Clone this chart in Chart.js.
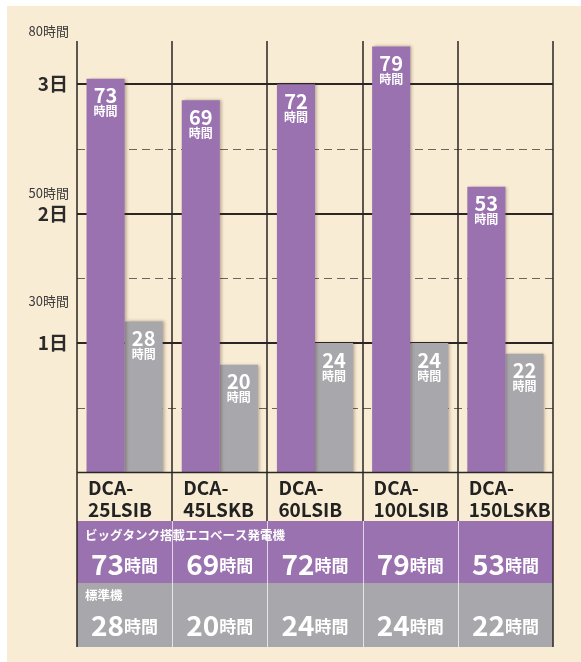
<!DOCTYPE html>
<html>
<head>
<meta charset="utf-8">
<script src="https://cdn.jsdelivr.net/npm/chart.js@4"></script>
<style>
  body { margin: 0; background: #fff; }
  canvas { display: block; }
</style>
</head>
<body>
<canvas id="myChart" width="581" height="662"></canvas>
<script>
const models = [['DCA-', '25LSIB'], ['DCA-', '45LSKB'], ['DCA-', '60LSIB'], ['DCA-', '100LSIB'], ['DCA-', '150LSKB']]
const ecoHours = [73, 69, 72, 79, 53]
const standardHours = [28, 20, 24, 24, 22]
const dayTicks = [24, 48, 72]
const dayLabels = ['1日', '2日', '3日']
const halfDayTicks = [12, 36, 60]
const hourTicks = [30, 50, 80]
const ecoTitle = 'ビッグタンク搭載エコベース発電機'
const standardTitle = '標準機'

const cream = '#f9ecd4'
const purple = '#9b72b0'
const grey = '#a8a7ac'
const dark = '#2a2624'
const font = '"Noto Sans CJK JP", "Noto Sans", sans-serif'

const backgroundPlugin = {
  id: 'background',
  beforeDraw(chart) {
    const ctx = chart.ctx
    ctx.save()
    ctx.fillStyle = cream
    ctx.fillRect(7, 6, chart.width - 7, chart.height - 6)
    ctx.restore()
  }
}

const gridPlugin = {
  id: 'grid',
  beforeDatasetsDraw(chart) {
    const { ctx, chartArea: a, scales: { y } } = chart
    ctx.save()
    ctx.strokeStyle = '#6e645e'
    ctx.lineWidth = 1
    ctx.setLineDash([8, 5])
    halfDayTicks.forEach(v => {
      const py = Math.round(y.getPixelForValue(v)) + 0.5
      ctx.beginPath(); ctx.moveTo(a.left, py); ctx.lineTo(a.right, py); ctx.stroke()
    })
    ctx.setLineDash([])
    ctx.strokeStyle = dark
    ctx.lineWidth = 2
    dayTicks.forEach(v => {
      const py = Math.round(y.getPixelForValue(v))
      ctx.beginPath(); ctx.moveTo(a.left, py); ctx.lineTo(a.right, py); ctx.stroke()
    })
    // day labels and hour labels
    ctx.fillStyle = '#2b2b2b'
    ctx.textAlign = 'right'
    ctx.textBaseline = 'middle'
    ctx.font = 'bold 19px ' + font
    dayTicks.forEach((v, i) => ctx.fillText(dayLabels[i], a.left - 9, y.getPixelForValue(v)))
    ctx.font = '13px ' + font
    ctx.fillStyle = '#3a3a3a'
    hourTicks.forEach(v => ctx.fillText(v + '時間', a.left - 8, y.getPixelForValue(v + 1.8)))
    ctx.restore()
  },
  beforeDatasetDraw(chart) {
    const ctx = chart.ctx
    ctx.save()
    ctx.shadowColor = 'rgba(60,40,30,0.35)'
    ctx.shadowBlur = 3
    ctx.shadowOffsetX = 2
  },
  afterDatasetDraw(chart) {
    chart.ctx.restore()
  }
}

const labelsPlugin = {
  id: 'labels',
  afterDatasetsDraw(chart) {
    const { ctx, chartArea: a, scales: { x } } = chart
    ctx.save()
    ctx.fillStyle = '#fff'
    ctx.textAlign = 'center'
    ctx.textBaseline = 'middle'
    chart.data.datasets.forEach((ds, di) => {
      chart.getDatasetMeta(di).data.forEach((bar, i) => {
        ctx.font = 'bold 20px ' + font
        ctx.fillText(String(ds.data[i]), bar.x, bar.y + 17)
        ctx.font = 'bold 12px ' + font
        ctx.fillText('時間', bar.x, bar.y + 33)
      })
    })

    const catW = x.getPixelForValue(1) - x.getPixelForValue(0)
    const bottom = a.bottom
    const rowCat = bottom + 48.5
    const rowEco = rowCat + 62
    const rowStd = rowEco + 64

    // table rows
    ctx.fillStyle = purple
    ctx.fillRect(a.left, rowCat, a.right - a.left, rowEco - rowCat)
    ctx.fillStyle = grey
    ctx.fillRect(a.left, rowEco, a.right - a.left, rowStd - rowEco)

    // light separators inside coloured rows
    ctx.strokeStyle = 'rgba(255,255,255,0.7)'
    ctx.lineWidth = 1
    for (let i = 1; i < models.length; i++) {
      const px = Math.round(x.getPixelForValue(i) - catW / 2) + 0.5
      ctx.beginPath(); ctx.moveTo(px, rowCat); ctx.lineTo(px, rowStd); ctx.stroke()
    }

    // dark vertical lines through chart and category row
    ctx.strokeStyle = dark
    ctx.lineWidth = 1.5
    for (let i = 0; i <= models.length; i++) {
      const px = Math.round(x.getPixelForValue(i) - catW / 2)
      const end = (i === 0 || i === models.length) ? rowStd : rowCat
      ctx.beginPath(); ctx.moveTo(px, a.top); ctx.lineTo(px, end); ctx.stroke()
    }
    ctx.beginPath(); ctx.moveTo(a.left, bottom); ctx.lineTo(a.right, bottom); ctx.stroke()

    // model names
    ctx.fillStyle = '#222'
    ctx.textAlign = 'left'
    ctx.font = 'bold 19px ' + font
    models.forEach((m, i) => {
      const left = x.getPixelForValue(i) - catW / 2 + 11
      ctx.fillText(m[0], left, bottom + 15)
      ctx.fillText(m[1], left, bottom + 37)
    })

    // row titles
    ctx.fillStyle = '#fff'
    ctx.font = 'bold 12.5px ' + font
    ctx.fillText(ecoTitle, a.left + 8, rowCat + 14)
    ctx.fillText(standardTitle, a.left + 8, rowEco + 12)

    // row values
    const drawValue = (v, cx, cy) => {
      ctx.font = 'bold 28px ' + font
      const w1 = ctx.measureText(String(v)).width
      ctx.font = 'bold 17px ' + font
      const w2 = ctx.measureText('時間').width
      const start = cx - (w1 + w2) / 2
      ctx.textAlign = 'left'
      ctx.font = 'bold 28px ' + font
      ctx.fillText(String(v), start, cy)
      ctx.font = 'bold 17px ' + font
      ctx.fillText('時間', start + w1, cy + 2)
    }
    ecoHours.forEach((v, i) => drawValue(v, x.getPixelForValue(i), rowCat + 43))
    standardHours.forEach((v, i) => drawValue(v, x.getPixelForValue(i), rowEco + 42))
    ctx.restore()
  }
}

const data = {
  labels: models.map(m => m.join('')),
  datasets: [
    { label: ecoTitle, data: ecoHours, backgroundColor: purple, borderWidth: 0 },
    { label: standardTitle, data: standardHours, backgroundColor: grey, borderWidth: 0 }
  ]
}

const config = {
  type: 'bar',
  data: data,
  options: {
    responsive: false,
    animation: false,
    layout: { padding: { left: 77, right: 28, top: 41, bottom: 189.5 } },
    datasets: { bar: { categoryPercentage: 0.8, barPercentage: 1.0 } },
    scales: {
      x: { display: false },
      y: { display: false, min: 0, max: 80 }
    },
    plugins: { legend: { display: false }, tooltip: { enabled: false } }
  },
  plugins: [backgroundPlugin, gridPlugin, labelsPlugin]
}

const myChart = new Chart(document.getElementById('myChart'), config)
</script>
</body>
</html>
